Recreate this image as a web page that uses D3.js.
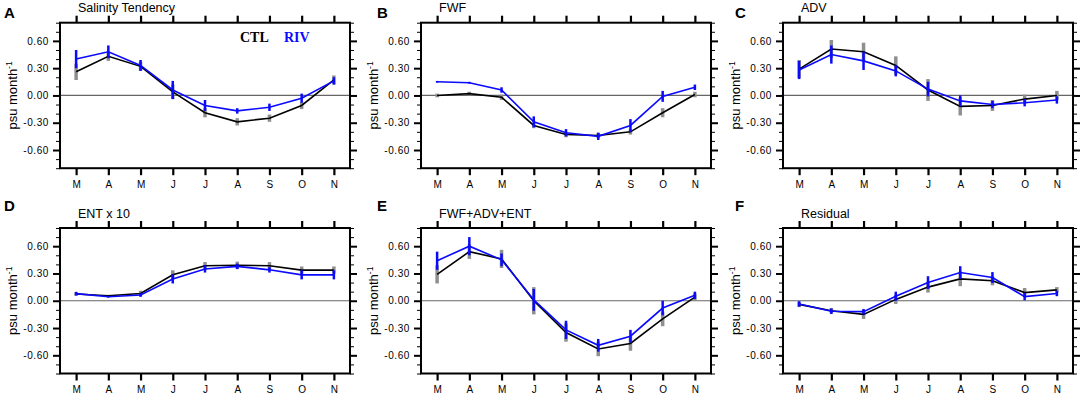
<!DOCTYPE html>
<html lang="en">
<head>
  <meta charset="UTF-8">
  <title>Salinity budget terms, CTL vs RIV</title>
  <script src="https://d3js.org/d3.v7.min.js"></script>
  <style>
    body {
      margin: 0;
      background: #fff;
      font-family: "Liberation Sans", Arial, Helvetica, sans-serif;
    }
    #chart { display: block; }
    .tick text { font-family: "Liberation Sans", Arial, sans-serif; }
  </style>
</head>
<body>
  <svg id="chart" width="1084" height="398"></svg>

  <script>
    // month labels (Mar..Nov)
    const months = ["M", "A", "M", "J", "J", "A", "S", "O", "N"];
    const yMajor = [-0.6, -0.3, 0, 0.3, 0.6];

    // A: salinity tendency
    const salCtl    = [0.26, 0.43, 0.32, 0.04, -0.19, -0.29, -0.25, -0.11, 0.17];
    const salCtlErr = [0.09, 0.05, 0.05, 0.08, 0.05, 0.04, 0.04, 0.04, 0.05];
    const salRiv    = [0.40, 0.48, 0.33, 0.06, -0.11, -0.17, -0.13, -0.03, 0.16];
    const salRivErr = [0.10, 0.07, 0.06, 0.10, 0.06, 0.03, 0.04, 0.05, 0.04];

    // B: freshwater flux
    const fwfCtl    = [0.00, 0.02, -0.02, -0.33, -0.43, -0.44, -0.40, -0.19, 0.01];
    const fwfCtlErr = [0.02, 0.02, 0.03, 0.03, 0.03, 0.03, 0.03, 0.05, 0.03];
    const fwfRiv    = [0.15, 0.14, 0.06, -0.29, -0.41, -0.45, -0.33, -0.01, 0.09];
    const fwfRivErr = [0.01, 0.01, 0.03, 0.06, 0.04, 0.04, 0.07, 0.06, 0.03];

    // C: advection
    const advCtl    = [0.29, 0.51, 0.48, 0.33, 0.06, -0.12, -0.11, -0.04, 0.00];
    const advCtlErr = [0.10, 0.10, 0.10, 0.10, 0.12, 0.10, 0.06, 0.05, 0.05];
    const advRiv    = [0.28, 0.45, 0.38, 0.27, 0.07, -0.06, -0.10, -0.08, -0.05];
    const advRivErr = [0.10, 0.10, 0.10, 0.06, 0.08, 0.06, 0.04, 0.04, 0.04];

    // D: entrainment x 10
    const entCtl    = [0.074, 0.055, 0.08, 0.285, 0.385, 0.39, 0.385, 0.337, 0.337];
    const entCtlErr = [0.02, 0.01, 0.03, 0.05, 0.04, 0.04, 0.04, 0.04, 0.04];
    const entRiv    = [0.078, 0.044, 0.063, 0.24, 0.35, 0.378, 0.34, 0.285, 0.285];
    const entRivErr = [0.02, 0.01, 0.02, 0.05, 0.04, 0.03, 0.03, 0.05, 0.05];

    // E: FWF+ADV+ENT
    const sumCtl    = [0.29, 0.54, 0.46, 0.00, -0.35, -0.53, -0.47, -0.20, 0.04];
    const sumCtlErr = [0.10, 0.08, 0.10, 0.15, 0.10, 0.08, 0.08, 0.08, 0.04];
    const sumRiv    = [0.44, 0.60, 0.45, 0.01, -0.32, -0.49, -0.39, -0.08, 0.06];
    const sumRivErr = [0.10, 0.10, 0.07, 0.12, 0.10, 0.07, 0.07, 0.08, 0.04];

    // F: residual
    const resCtl    = [-0.04, -0.11, -0.15, 0.015, 0.15, 0.24, 0.22, 0.09, 0.12];
    const resCtlErr = [0.03, 0.03, 0.05, 0.05, 0.06, 0.08, 0.05, 0.05, 0.03];
    const resRiv    = [-0.035, -0.115, -0.12, 0.05, 0.20, 0.31, 0.255, 0.045, 0.08];
    const resRivErr = [0.03, 0.03, 0.03, 0.05, 0.07, 0.07, 0.06, 0.04, 0.03];

    const panels = [
      { letter: "A", title: "Salinity Tendency", ctl: salCtl, ctlErr: salCtlErr, riv: salRiv, rivErr: salRivErr, col: 0, row: 0, legend: true },
      { letter: "B", title: "FWF", ctl: fwfCtl, ctlErr: fwfCtlErr, riv: fwfRiv, rivErr: fwfRivErr, col: 1, row: 0 },
      { letter: "C", title: "ADV", ctl: advCtl, ctlErr: advCtlErr, riv: advRiv, rivErr: advRivErr, col: 2, row: 0 },
      { letter: "D", title: "ENT x 10", ctl: entCtl, ctlErr: entCtlErr, riv: entRiv, rivErr: entRivErr, col: 0, row: 1 },
      { letter: "E", title: "FWF+ADV+ENT", ctl: sumCtl, ctlErr: sumCtlErr, riv: sumRiv, rivErr: sumRivErr, col: 1, row: 1 },
      { letter: "F", title: "Residual", ctl: resCtl, ctlErr: resCtlErr, riv: resRiv, rivErr: resRivErr, col: 2, row: 1 }
    ];

    const colLeft = [60, 421, 783];
    const rowTop = [22.7, 228];
    const letterX = [4, 377, 735];
    const letterY = [18, 211];
    const W = 290, H = 145.5;

    const svg = d3.select("#chart");

    const x = d3.scaleLinear().domain([-0.5, 8.5]).range([0, W]);
    const y = d3.scaleLinear().domain([-0.8, 0.8]).range([H, 0]);
    const yMinor = d3.range(-8, 9).map(i => i / 10).filter(v => !yMajor.some(m => Math.abs(m - v) < 1e-6));

    function styleAxis(g, width) {
      g.select(".domain").remove();
      g.selectAll(".tick line").attr("stroke", "#000").attr("stroke-width", width);
    }

    panels.forEach(p => {
      const left = colLeft[p.col], top = rowTop[p.row];
      const g = svg.append("g").attr("transform", `translate(${left},${top})`);

      // panel letter and title
      svg.append("text")
        .attr("x", letterX[p.col]).attr("y", letterY[p.row])
        .attr("font-size", "15px").attr("font-weight", "bold")
        .text(p.letter);
      g.append("text")
        .attr("x", 18).attr("y", -10.5)
        .attr("font-size", "12.5px")
        .text(p.title);

      // y axis (left), majors with labels
      g.append("g")
        .call(d3.axisLeft(y).tickValues(yMajor).tickSize(7).tickPadding(4)
          .tickFormat(d => d.toFixed(2)))
        .call(a => styleAxis(a, 2))
        .call(a => a.selectAll("text").attr("font-size", "10px").attr("letter-spacing", "0.6px").attr("fill", "#000"));
      g.append("g")
        .call(d3.axisLeft(y).tickValues(yMinor).tickSize(4).tickFormat(""))
        .call(a => styleAxis(a, 1));

      // right side ticks
      g.append("g").attr("transform", `translate(${W},0)`)
        .call(d3.axisRight(y).tickValues(yMajor).tickSize(7).tickFormat(""))
        .call(a => styleAxis(a, 2));
      g.append("g").attr("transform", `translate(${W},0)`)
        .call(d3.axisRight(y).tickValues(yMinor).tickSize(4).tickFormat(""))
        .call(a => styleAxis(a, 1));

      // month ticks top and bottom
      g.append("g")
        .call(d3.axisTop(x).tickValues(d3.range(9)).tickSize(7).tickFormat(""))
        .call(a => styleAxis(a, 2.2));
      g.append("g").attr("transform", `translate(0,${H})`)
        .call(d3.axisBottom(x).tickValues(d3.range(9)).tickSize(7).tickPadding(5.5)
          .tickFormat(i => months[i]))
        .call(a => styleAxis(a, 2.2))
        .call(a => a.selectAll("text").attr("font-size", "10px").attr("fill", "#000"));

      // y axis title
      const lab = g.append("text")
        .attr("transform", `translate(-43,${H / 2}) rotate(-90)`)
        .attr("text-anchor", "middle")
        .attr("font-size", "13px");
      lab.append("tspan").text("psu month");
      lab.append("tspan").attr("font-size", "8.5px").attr("dy", "-5").text("-1");

      // zero line
      g.append("line")
        .attr("x1", 0).attr("x2", W)
        .attr("y1", y(0)).attr("y2", y(0))
        .attr("stroke", "#666").attr("stroke-width", 1.2);

      const idx = d3.range(9);

      // CTL error bars (gray)
      g.append("g").selectAll("line")
        .data(idx).join("line")
        .attr("x1", i => x(i)).attr("x2", i => x(i))
        .attr("y1", i => y(p.ctl[i] - p.ctlErr[i]))
        .attr("y2", i => y(p.ctl[i] + p.ctlErr[i]))
        .attr("stroke", "#8f8f8f").attr("stroke-width", 3.5);

      const line = d3.line().x((d, i) => x(i)).y(d => y(d));

      g.append("path").datum(p.ctl)
        .attr("d", line).attr("fill", "none")
        .attr("stroke", "#000").attr("stroke-width", 1.6);

      // RIV error bars (blue)
      g.append("g").selectAll("line")
        .data(idx).join("line")
        .attr("x1", i => x(i)).attr("x2", i => x(i))
        .attr("y1", i => y(p.riv[i] - p.rivErr[i]))
        .attr("y2", i => y(p.riv[i] + p.rivErr[i]))
        .attr("stroke", "#0a0aff").attr("stroke-width", 2.5);

      g.append("path").datum(p.riv)
        .attr("d", line).attr("fill", "none")
        .attr("stroke", "#0a0aff").attr("stroke-width", 1.6);

      // frame
      g.append("rect")
        .attr("width", W).attr("height", H)
        .attr("fill", "none").attr("stroke", "#000").attr("stroke-width", 2);

      if (p.legend) {
        g.append("text").attr("x", 180).attr("y", 19)
          .attr("font-family", "'Liberation Serif', 'Times New Roman', serif")
          .attr("font-size", "14px").attr("font-weight", "bold")
          .text("CTL");
        g.append("text").attr("x", 224).attr("y", 19)
          .attr("font-family", "'Liberation Serif', 'Times New Roman', serif")
          .attr("font-size", "14px").attr("font-weight", "bold").attr("fill", "#0a0aff")
          .text("RIV");
      }
    });
  </script>
</body>
</html>
